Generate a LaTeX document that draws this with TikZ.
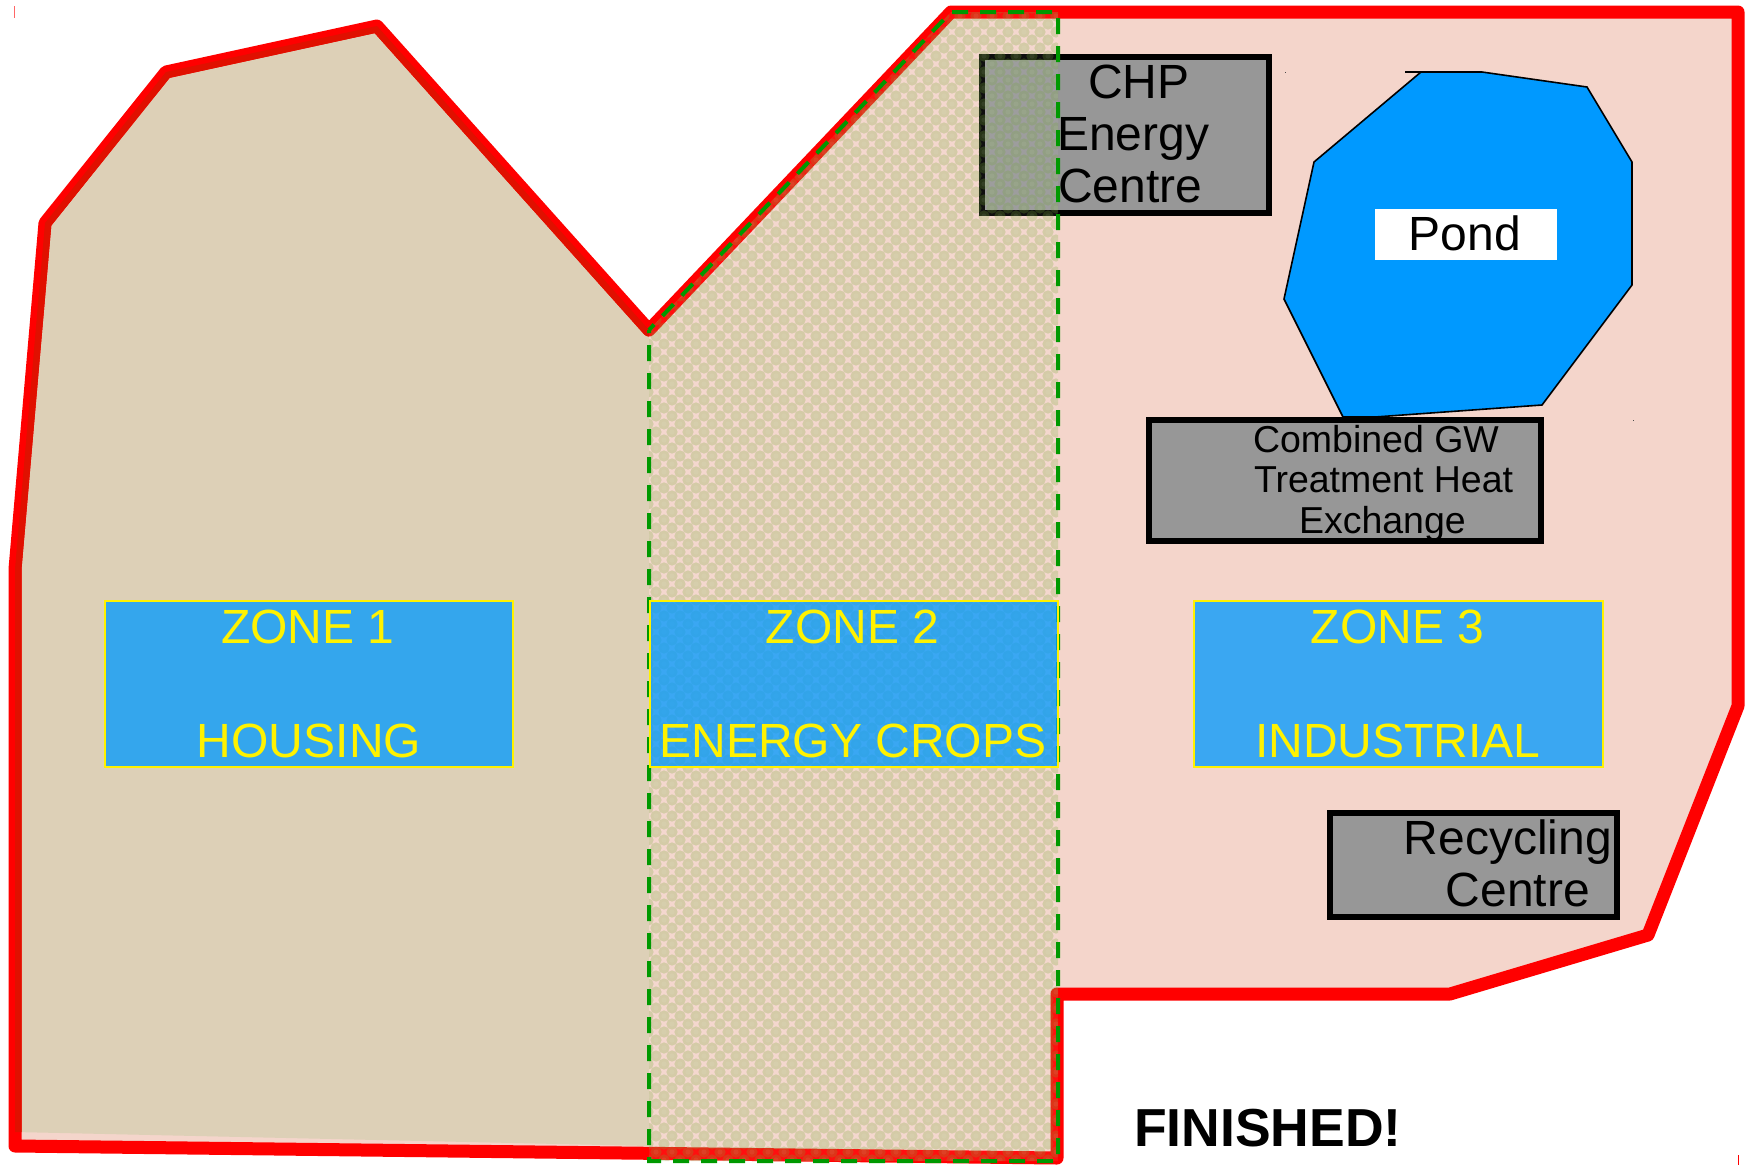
\documentclass[tikz,border=0pt]{standalone}
\usepackage{fontspec}
\setmainfont{Liberation Sans}
\definecolor{sitepink}{HTML}{F4D5CB}
\definecolor{sitetan}{HTML}{DDD0B7}
\definecolor{sitered}{HTML}{FF0000}
\definecolor{redshade}{HTML}{E01000}
\definecolor{boxgrey}{HTML}{979797}
\definecolor{pondblue}{HTML}{0099FF}
\definecolor{dashgreen}{HTML}{009900}
\definecolor{dotgreen}{RGB}{117,168,54}
\tikzset{
  txt/.style={inner sep=0pt,outer sep=0pt,font=\fontsize{48}{48}\selectfont},
  basew/.style={txt,anchor=base west},
  basee/.style={txt,anchor=base east},
  basec/.style={txt,anchor=base},
  small/.style={font=\fontsize{37.5}{37.5}\selectfont},
  ztext/.style={basec,text=yellow},
  blackbox/.style={draw=black,line width=6pt,fill=boxgrey,line join=miter},
  zonebox/.style={fill=pondblue,fill opacity=.76,draw=yellow,line width=2pt},
  redline/.style={line width=13pt,line join=round}
}
\def\sitepath{(15,569) -- (45,223) -- (166,72) -- (377,26) -- (649,330) -- (951,12) -- (1738,12) -- (1738,706) -- (1648,935) -- (1450,994) -- (1057,994) -- (1057,1158) -- (15,1146) -- cycle}
\def\tanpath{(15,569) -- (45,223) -- (166,72) -- (377,26) -- (649,330) -- (649,1146) -- (15,1132) -- cycle}
\def\croppath{(649,330) -- (649,1161) -- (1058,1161) -- (1058,12) -- (951,12) -- cycle}
\begin{document}
\begin{tikzpicture}[x=1pt,y=-1pt]
\useasboundingbox (0,0) rectangle (1749,1165);
% site
\fill[sitepink] \sitepath;
\fill[sitetan] \tanpath;
\draw[sitered,redline] \sitepath;
\begin{scope}
  \clip \tanpath;
  \draw[redshade,redline] \sitepath;
\end{scope}
% pond
\filldraw[fill=pondblue,draw=black,line width=1.6pt,line join=miter]
  (1421,72) -- (1482,72) -- (1587,87) -- (1632,162) -- (1632,285) -- (1542,405)
  -- (1375,417) -- (1343,417) -- (1284,299) -- (1314,162) -- cycle;
\draw[black,line width=1.6pt] (1405,72) -- (1421,72);
\fill[white] (1375,209) rectangle (1557,260);
\node[basec] (pond) at (1465,250) {Pond};
% buildings
\filldraw[blackbox] (982,57) rectangle (1269,213);
\node[basew] (chp1) at (1088,98) {CHP};
\node[basew] (chp2) at (1057,150) {Energy};
\node[basew] (chp3) at (1058,202) {Centre};
\filldraw[blackbox] (1149,420) rectangle (1541,541);
\node[basew,small] (gw1) at (1253,452.5) {Combined GW};
\node[basew,small] (gw2) at (1254,492.5) {Treatment Heat};
\node[basew,small] (gw3) at (1299,533) {Exchange};
\filldraw[blackbox] (1330,813) rectangle (1617,917);
\node[basee] (rec1) at (1612,854) {Recycling};
\node[basee] (rec2) at (1590,906) {Centre};
% crop pattern
\begin{scope}
  \clip \croppath;
  \fill[white,fill opacity=.06] \croppath;
  \foreach \j in {0,...,72}{
    \fill[dotgreen,fill opacity=.25]
      foreach \i in {0,...,26}{
        (\the\numexpr648+16*\i\relax,\the\numexpr8+16*\j\relax) circle[radius=5.65pt]
        (\the\numexpr656+16*\i\relax,\the\numexpr16+16*\j\relax) circle[radius=5.65pt]
      };
    \fill[white,fill opacity=.06]
      foreach \i in {0,...,26}{
        (\the\numexpr648+16*\i\relax,\the\numexpr8+16*\j\relax) circle[radius=2.6pt]
        (\the\numexpr656+16*\i\relax,\the\numexpr16+16*\j\relax) circle[radius=2.6pt]
      };
  }
\end{scope}
\draw[dashgreen,line width=4pt,dash pattern=on 16pt off 12pt,dash phase=13pt] \croppath;
% zones
\draw[zonebox] (105,601) rectangle (513,766.5);
\draw[zonebox] (649.5,601) rectangle (1057.5,766.5);
\draw[zonebox] (1194,601) rectangle (1602.5,766.5);
\node[ztext] (z1a) at (308,643) {ZONE 1};
\node[ztext] (z1b) at (309,757) {HOUSING};
\node[ztext] (z2a) at (852.5,643) {ZONE 2};
\node[ztext] (z2b) at (853,757) {ENERGY CROPS};
\node[ztext] (z3a) at (1397.5,643) {ZONE 3};
\node[ztext] (z3b) at (1398,757) {INDUSTRIAL};
% finished
\node[basew,font=\fontsize{53.5}{53.5}\selectfont\bfseries] (done) at (1134,1146.5) {FINISHED!};
% stray marks
\draw[sitered,opacity=.6,line width=1.5pt] (14.7,6) -- (14.7,18);
\draw[sitered,line width=1pt] (1738.5,1155) -- (1738.5,1165);
\fill[black!70] (1284.5,71.5) rectangle (1286,73);
\fill[black!70] (1632.5,419.5) rectangle (1634,421);
\end{tikzpicture}
\end{document}
